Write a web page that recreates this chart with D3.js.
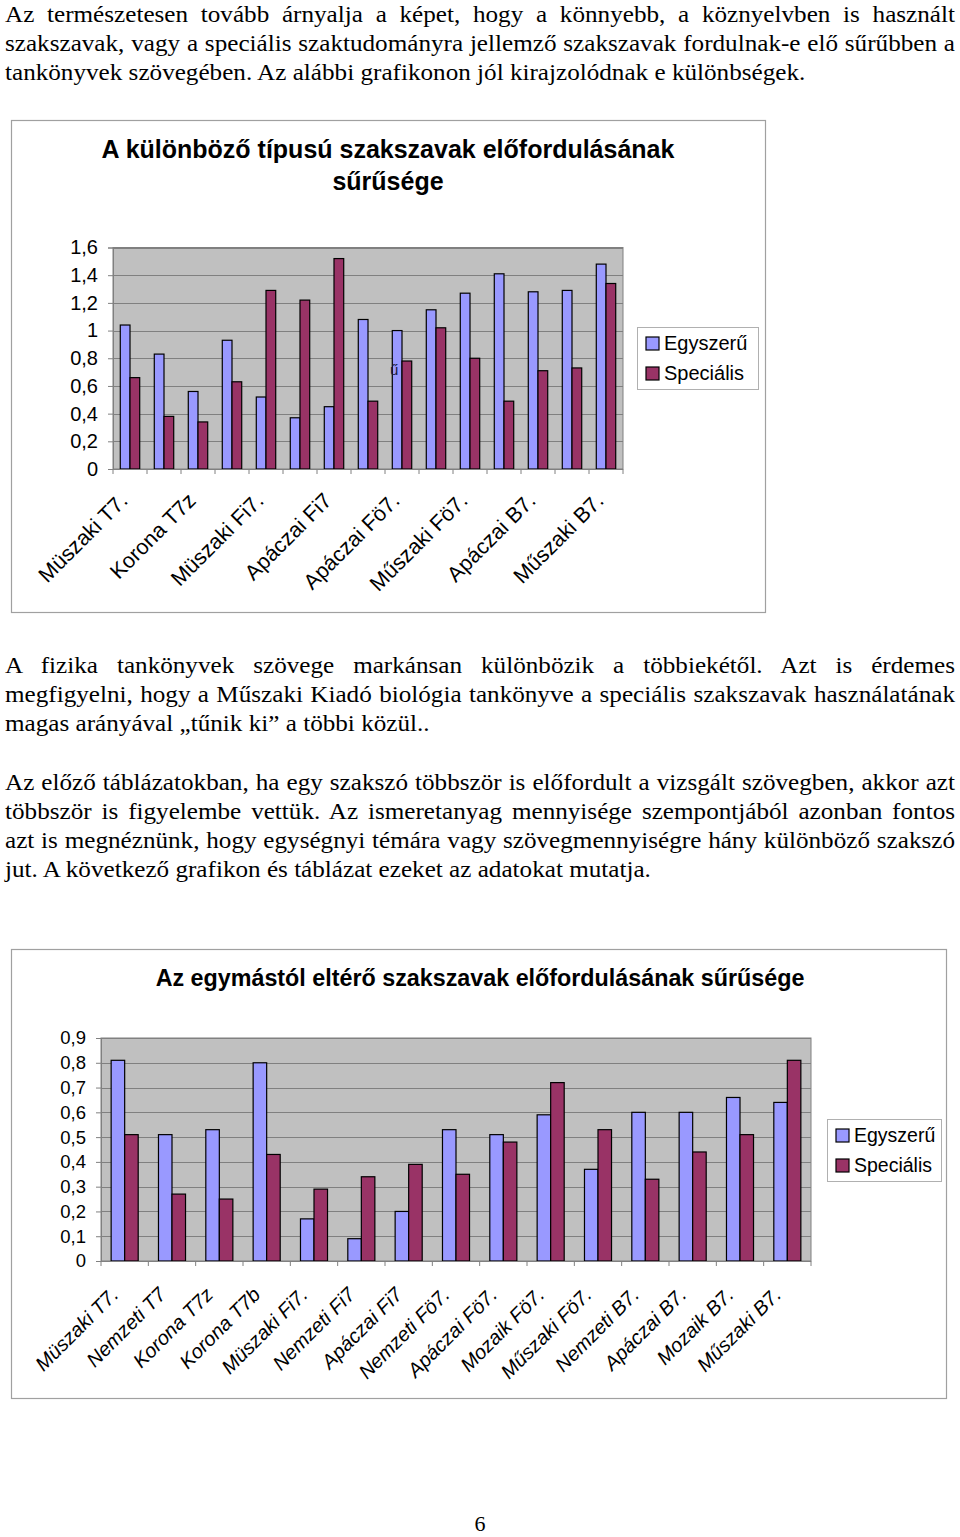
<!DOCTYPE html>
<html>
<head>
<meta charset="utf-8">
<script src="https://cdn.jsdelivr.net/npm/d3@7"></script>
<style>
  html, body { margin: 0; padding: 0; background: #fff; }
  svg { display: block; }
</style>
</head>
<body>
<svg id="page" width="960" height="1537"></svg>
<script>
// ---------------- DATA ----------------
const categories = ["Müszaki T7.", "Nemzeti T7", "Korona T7z", "Korona T7b", "Müszaki Fi7.", "Nemzeti Fi7",
  "Apáczai Fi7", "Nemzeti Fö7.", "Apáczai Fö7.", "Mozaik Fö7.", "Műszaki Fö7.", "Nemzeti B7.",
  "Apáczai B7.", "Mozaik B7.", "Műszaki B7."];
const seriesNames = ["Egyszerű", "Speciális"];

// Chart 1: A különböző típusú szakszavak előfordulásának sűrűsége
const chart1Title = ["A különböző típusú szakszavak előfordulásának", "sűrűsége"];
const chart1Simple  = [1.04, 0.83, 0.56, 0.93, 0.52, 0.37, 0.45, 1.08, 1.00, 1.15, 1.27, 1.41, 1.28, 1.29, 1.48];
const chart1Special = [0.66, 0.38, 0.34, 0.63, 1.29, 1.22, 1.52, 0.49, 0.78, 1.02, 0.80, 0.49, 0.71, 0.73, 1.34];
const chart1Ticks = [0, 0.2, 0.4, 0.6, 0.8, 1, 1.2, 1.4, 1.6];

// Chart 2: Az egymástól eltérő szakszavak előfordulásának sűrűsége
const chart2Title = ["Az egymástól eltérő szakszavak előfordulásának sűrűsége"];
const chart2Simple  = [0.81, 0.51, 0.53, 0.80, 0.17, 0.09, 0.20, 0.53, 0.51, 0.59, 0.37, 0.60, 0.60, 0.66, 0.64];
const chart2Special = [0.51, 0.27, 0.25, 0.43, 0.29, 0.34, 0.39, 0.35, 0.48, 0.72, 0.53, 0.33, 0.44, 0.51, 0.81];
const chart2Ticks = [0, 0.1, 0.2, 0.3, 0.4, 0.5, 0.6, 0.7, 0.8, 0.9];

// Document text
const paragraph1 = [
  "Az természetesen tovább árnyalja a képet, hogy a könnyebb, a köznyelvben is használt",
  "szakszavak, vagy a speciális szaktudományra jellemző szakszavak fordulnak-e elő sűrűbben a",
  "tankönyvek szövegében. Az alábbi grafikonon jól kirajzolódnak e különbségek."
];
const paragraph2 = [
  "A fizika tankönyvek szövege markánsan különbözik a többiekétől. Azt is érdemes",
  "megfigyelni, hogy a Műszaki Kiadó biológia tankönyve a speciális szakszavak használatának",
  "magas arányával „tűnik ki” a többi közül.."
];
const paragraph3 = [
  "Az előző táblázatokban, ha egy szakszó többször is előfordult a vizsgált szövegben, akkor azt",
  "többször is figyelembe vettük. Az ismeretanyag mennyisége szempontjából azonban fontos",
  "azt is megnéznünk, hogy egységnyi témára vagy szövegmennyiségre hány különböző szakszó",
  "jut. A következő grafikon és táblázat ezeket az adatokat mutatja."
];
const pageNumber = "6";

// ---------------- DRAWING ----------------
const svg = d3.select("#page");
const huFmt = d3.formatLocale({decimal: ",", thousands: " ", grouping: [3], currency: ["", ""]}).format("~g");
const COLORS = ["#9999FF", "#993366"];
const SERIF = "'Liberation Serif', 'Times New Roman', serif";
const TEXT_SIZE = 23.5;

// measure condensation factor from a known last line width
const probe = svg.append("text").attr("font-family", SERIF).attr("font-size", TEXT_SIZE).text(paragraph1[2]);
const SX = 801 / probe.node().getComputedTextLength();
probe.remove();

function drawParagraph(lines, firstBaseline) {
  const g = svg.append("g").attr("font-family", SERIF).attr("font-size", TEXT_SIZE).attr("fill", "#000");
  lines.forEach((ln, i) => {
    const t = g.append("text").attr("transform", `translate(5,${firstBaseline + i * 29}) scale(${SX},1)`).text(ln);
    const isLast = i === lines.length - 1;
    if (!isLast) {
      const nat = t.node().getComputedTextLength();
      const spaces = (ln.match(/ /g) || []).length;
      t.attr("word-spacing", (950 / SX - nat) / spaces);
    }
  });
}
drawParagraph(paragraph1, 21.5);
drawParagraph(paragraph2, 673);
drawParagraph(paragraph3, 790);

svg.append("text").attr("x", 480).attr("y", 1531).attr("text-anchor", "middle")
  .attr("font-family", SERIF).attr("font-size", 22).text(pageNumber);

function drawChart(cfg) {
  const g = svg.append("g").attr("font-family", "'Liberation Sans', Arial, sans-serif");
  // frame
  g.append("rect").attr("x", cfg.frame[0] + 0.5).attr("y", cfg.frame[1] + 0.5)
    .attr("width", cfg.frame[2] - cfg.frame[0]).attr("height", cfg.frame[3] - cfg.frame[1])
    .attr("fill", "#fff").attr("stroke", "#a0a0a0").attr("stroke-width", 1.2);
  // title
  cfg.title.forEach((t, i) => {
    g.append("text").attr("x", cfg.titleX).attr("y", cfg.titleY + i * 32)
      .attr("text-anchor", "middle").attr("font-weight", "bold").attr("font-size", cfg.titleFont)
      .text(t);
  });
  const x = d3.scaleBand().domain(d3.range(categories.length)).range([cfg.plot[0], cfg.plot[2]]).paddingInner(0).paddingOuter(0);
  const y = d3.scaleLinear().domain([0, cfg.max]).range([cfg.plot[3], cfg.plot[1]]);
  const barW = x.bandwidth() / 3.5;
  // plot background
  g.append("rect").attr("x", cfg.plot[0]).attr("y", cfg.plot[1])
    .attr("width", cfg.plot[2] - cfg.plot[0]).attr("height", cfg.plot[3] - cfg.plot[1])
    .attr("fill", "#C0C0C0").attr("stroke", "#808080").attr("stroke-width", 1);
  // gridlines
  g.append("g").selectAll("line").data(cfg.ticks.filter(d => d > 0)).join("line")
    .attr("x1", cfg.plot[0]).attr("x2", cfg.plot[2])
    .attr("y1", d => Math.round(y(d)) + 0.5).attr("y2", d => Math.round(y(d)) + 0.5)
    .attr("stroke", "#808080").attr("stroke-width", 1);
  // y axis
  const yAxis = g.append("g").attr("transform", `translate(${cfg.plot[0]},0)`)
    .call(d3.axisLeft(y).tickValues(cfg.ticks).tickFormat(huFmt).tickSize(5).tickPadding(cfg.yPad));
  yAxis.select(".domain").attr("stroke", "#808080");
  yAxis.selectAll(".tick line").attr("stroke", "#808080");
  yAxis.selectAll(".tick text").attr("font-size", cfg.yFont).attr("fill", "#000")
    .attr("font-family", "'Liberation Sans', Arial, sans-serif");
  // bars
  const series = [cfg.simple, cfg.special];
  series.forEach((vals, si) => {
    g.append("g").selectAll("rect").data(vals).join("rect")
      .attr("x", (d, i) => x(i) + barW * 0.75 + si * barW)
      .attr("y", d => y(d))
      .attr("width", barW)
      .attr("height", d => y(0) - y(d))
      .attr("fill", COLORS[si]).attr("stroke", "#000").attr("stroke-width", 1.2);
  });
  // x axis
  const xAxisY = cfg.plot[3];
  g.append("line").attr("x1", cfg.plot[0]).attr("x2", cfg.plot[2]).attr("y1", xAxisY + 0.5).attr("y2", xAxisY + 0.5)
    .attr("stroke", "#808080");
  g.append("g").selectAll("line").data(d3.range(categories.length + 1)).join("line")
    .attr("x1", i => cfg.plot[0] + i * x.bandwidth()).attr("x2", i => cfg.plot[0] + i * x.bandwidth())
    .attr("y1", xAxisY).attr("y2", xAxisY + 5).attr("stroke", "#808080");
  // x labels
  const labelIdx = d3.range(categories.length).filter(i => i % cfg.labelStep === 0);
  g.append("g").selectAll("text").data(labelIdx).join("text")
    .attr("transform", i => `translate(${x(i) + x.bandwidth() / 2 + cfg.lblDx},${xAxisY + cfg.lblDy}) rotate(-45)`)
    .attr("text-anchor", "end").attr("font-size", cfg.xFont)
    .attr("font-style", cfg.italic ? "italic" : "normal")
    .text(i => categories[i]);
  // legend
  const L = cfg.legend;
  g.append("rect").attr("x", L[0] + 0.5).attr("y", L[1] + 0.5).attr("width", L[2] - L[0]).attr("height", L[3] - L[1])
    .attr("fill", "#fff").attr("stroke", "#b0b0b0");
  seriesNames.forEach((n, si) => {
    const cy = L[1] + 16 + si * 30;
    g.append("rect").attr("x", L[0] + 9).attr("y", cy - 6).attr("width", 13).attr("height", 13)
      .attr("fill", COLORS[si]).attr("stroke", "#000").attr("stroke-width", 1.2);
    g.append("text").attr("x", L[0] + 27).attr("y", cy + 7).attr("font-size", cfg.legFont).text(n);
  });
  return {g, x, y};
}

const c1 = drawChart({
  frame: [11, 120, 765, 612], title: chart1Title, titleX: 388, titleY: 158, titleFont: 25,
  plot: [113, 247.5, 623, 469], max: 1.6, ticks: chart1Ticks, yFont: 20, yPad: 10,
  simple: chart1Simple, special: chart1Special, labelStep: 2, xFont: 21.5, lblDx: -1, lblDy: 33, italic: false,
  legend: [637, 327, 758, 389], legFont: 20
});
// stray glyph visible inside the first chart
c1.g.append("text").attr("x", c1.x(8) + 5).attr("y", c1.y(0.68)).attr("font-size", 15)
  .attr("fill", "#1a1a40").text("ű");

drawChart({
  frame: [11, 949, 946, 1398], title: chart2Title, titleX: 480, titleY: 986, titleFont: 23.3,
  plot: [101, 1038, 811, 1261], max: 0.9, ticks: chart2Ticks, yFont: 18.5, yPad: 10,
  simple: chart2Simple, special: chart2Special, labelStep: 1, xFont: 20, lblDx: -5, lblDy: 35, italic: true,
  legend: [827, 1119, 941, 1181], legFont: 19.5
});
</script>
</body>
</html>
